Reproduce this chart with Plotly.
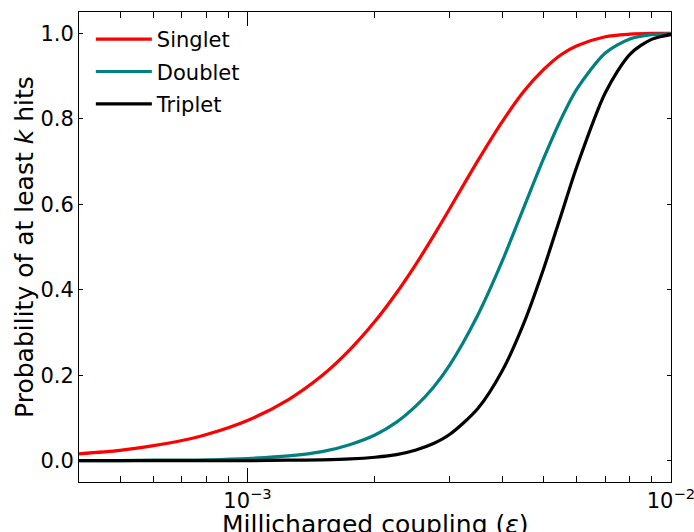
import numpy as np
import plotly.graph_objects as go

# Millicharged coupling values (x) and probabilities
eps = [4e-4, 5e-4, 6e-4, 7e-4, 8e-4, 1e-3, 1.25e-3, 1.5e-3, 1.75e-3, 2e-3,
       2.25e-3, 2.5e-3, 2.75e-3, 3e-3, 3.5e-3, 4e-3, 4.5e-3, 5e-3, 5.5e-3,
       6e-3, 7e-3, 8e-3, 9e-3, 1e-2]
singlet = [0.016, 0.024, 0.035, 0.047, 0.061, 0.094, 0.143, 0.199, 0.261, 0.326,
           0.393, 0.460, 0.526, 0.589, 0.702, 0.794, 0.865, 0.915, 0.950,
           0.971, 0.992, 0.998, 1.0, 1.0]
doublet = [0.0, 0.0, 0.001, 0.001, 0.002, 0.005, 0.011, 0.021, 0.038, 0.060,
           0.090, 0.128, 0.172, 0.223, 0.341, 0.468, 0.594, 0.706, 0.799,
           0.870, 0.954, 0.987, 0.997, 0.999]
triplet = [0.0, 0.0, 0.0, 0.0, 0.0, 0.0, 0.001, 0.002, 0.004, 0.008,
           0.014, 0.025, 0.040, 0.061, 0.122, 0.211, 0.323, 0.448, 0.574,
           0.689, 0.861, 0.951, 0.986, 0.997]

series_names = ["Singlet", "Doublet", "Triplet"]
series_colors = ["#ff0000", "#008080", "#000000"]
series_values = [singlet, doublet, triplet]

x_major = [1e-3, 1e-2]
x_major_text = ["10<sup>\u22123</sup>", "10<sup>\u22122</sup>"]
x_minor = [5e-4, 6e-4, 7e-4, 8e-4, 9e-4,
           2e-3, 3e-3, 4e-3, 5e-3, 6e-3, 7e-3, 8e-3, 9e-3]
y_ticks = [0.0, 0.2, 0.4, 0.6, 0.8, 1.0]
y_tick_text = ["0.0", "0.2", "0.4", "0.6", "0.8", "1.0"]
x_title = "Millicharged coupling (<i>\u03b5</i>)"
y_title = "Probability of at least <i>k</i> hits"

FONT = "DejaVu Sans"

fig = go.Figure()
for name, color, vals in zip(series_names, series_colors, series_values):
    fig.add_trace(go.Scatter(
        x=eps, y=vals, mode="lines", name=name, legendgroup=name,
        line=dict(color=color, width=3.2, shape="spline", smoothing=0.8),
    ))

fig.update_layout(
    width=694, height=532,
    margin=dict(l=79, r=23, t=12, b=50),
    plot_bgcolor="white", paper_bgcolor="white",
    font=dict(family=FONT, color="black", size=21),
    showlegend=True,
    legend=dict(
        x=0.02, y=0.985, xanchor="left", yanchor="top",
        bgcolor="rgba(0,0,0,0)", borderwidth=0,
        font=dict(family=FONT, size=21, color="black"),
        itemwidth=56, tracegroupgap=2,
    ),
)

fig.update_xaxes(
    type="log",
    range=[np.log10(4e-4), np.log10(1.0005e-2)],
    showline=True, linecolor="black", linewidth=1, mirror="allticks",
    ticks="inside", ticklen=14, tickwidth=1, tickcolor="black",
    tickmode="array", tickvals=x_major, ticktext=x_major_text,
    ticklabeloverflow="allow",
    tickfont=dict(family=FONT, size=21, color="black"),
    minor=dict(ticks="inside", ticklen=6, tickwidth=1, tickcolor="black",
               tickmode="array", tickvals=x_minor, showgrid=False),
    showgrid=False, zeroline=False, automargin=False,
)

fig.update_yaxes(
    range=[-0.05, 1.05],
    showline=True, linecolor="black", linewidth=1, mirror="allticks",
    ticks="inside", ticklen=4, tickwidth=1, tickcolor="black",
    tickmode="array", tickvals=y_ticks, ticktext=y_tick_text,
    tickfont=dict(family=FONT, size=21, color="black"),
    showgrid=False, zeroline=False, automargin=False,
)

# axis titles placed as annotations (paper coords relative to plot area)
fig.add_annotation(text=x_title, xref="paper", yref="paper",
                   x=0.5, y=-0.055, xanchor="center", yanchor="top",
                   showarrow=False,
                   font=dict(family=FONT, size=25, color="black"))
fig.add_annotation(text=y_title, xref="paper", yref="paper",
                   x=-0.093, y=0.5, xanchor="center", yanchor="middle",
                   textangle=-90, showarrow=False,
                   font=dict(family=FONT, size=25, color="black"))

fig.write_html("out.html")
